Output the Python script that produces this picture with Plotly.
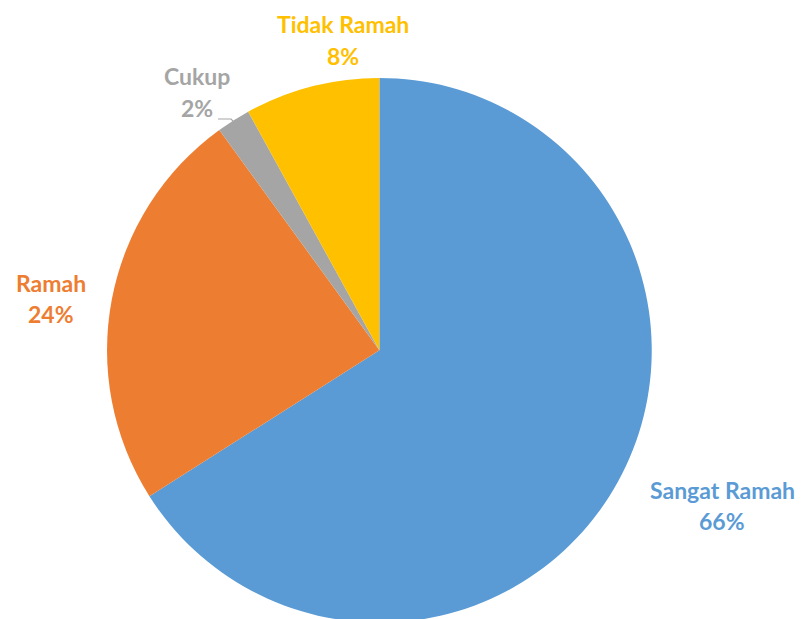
import plotly.graph_objects as go

labels = ["Sangat Ramah", "Ramah", "Cukup", "Tidak Ramah"]
values = [66, 24, 2, 8]
colors = ["#5B9BD5", "#ED7D31", "#A5A5A5", "#FFC000"]

W, H = 803, 619

fig = go.Figure(go.Pie(
    labels=labels, values=values, sort=False, direction="clockwise", rotation=0,
    marker=dict(colors=colors, line=dict(width=0)),
    textinfo="none", hoverinfo="label+percent", showlegend=False,
    domain=dict(x=[0.115, 0.81], y=[0.007, 0.887]),
))

def px(x, y):
    return x / W, 1 - y / H

label_pos = {
    "Sangat Ramah": (714, 482, 513),
    "Ramah": (43, 275, 306),
    "Cukup": (189, 68, 100),
    "Tidak Ramah": (335, 16, 48),
}
total = sum(values)
anns = []
for lab, val, col in zip(labels, values, colors):
    cx, y1, y2 = label_pos[lab]
    for txt, yy in ((lab, y1), (f"{round(100*val/total)}%", y2)):
        x, y = px(cx, yy)
        anns.append(dict(x=x, y=y, xref="paper", yref="paper", text=f"<b>{txt}</b>",
                         showarrow=False, xanchor="center", yanchor="middle",
                         font=dict(family="Lato", size=23, color=col)))

# leader line for Cukup
p0 = px(210, 111)
p1 = px(223, 111)
p2 = px(233, 121)
shapes = [dict(type="path", xref="paper", yref="paper",
               path=f"M {p0[0]},{p0[1]} L {p1[0]},{p1[1]} L {p2[0]},{p2[1]}",
               line=dict(color="#A5A5A5", width=1.2))]

fig.update_layout(width=W, height=H, margin=dict(l=0, r=0, t=0, b=0),
                  paper_bgcolor="white", plot_bgcolor="white",
                  annotations=anns, shapes=shapes)
fig.write_html("out.html")
